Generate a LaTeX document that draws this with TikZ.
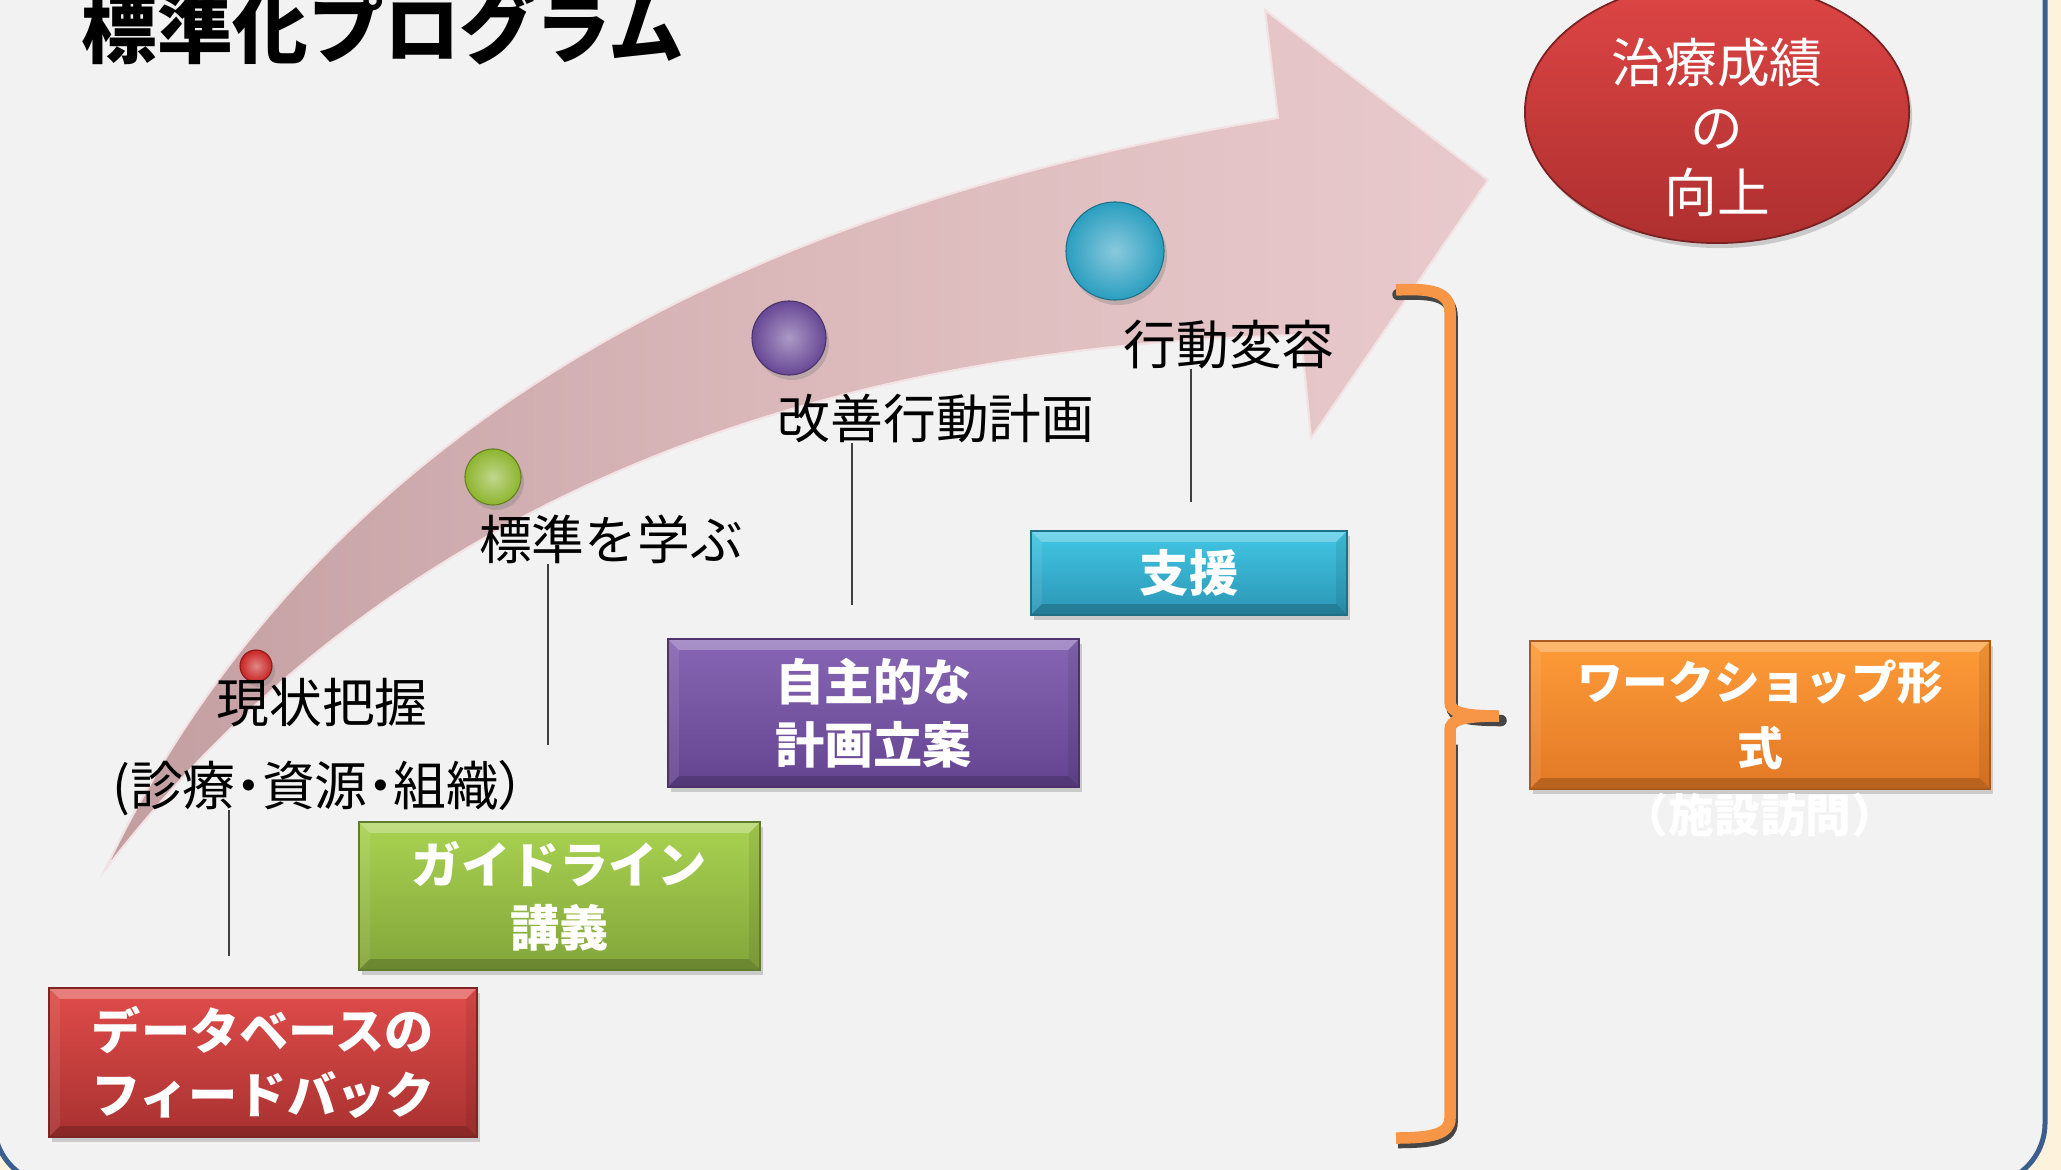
\documentclass[tikz,border=0pt]{standalone}
\usepackage{fontspec}
\setmainfont{Noto Sans CJK JP}
\newfontfamily\jpprop{Noto Sans CJK JP}[RawFeature=+palt]
\usetikzlibrary{shapes.geometric,shadows}

\definecolor{bgc}{HTML}{F2F2F2}
\definecolor{cream}{HTML}{FDF2DC}
\definecolor{framec}{HTML}{3A5F8F}
\definecolor{arrowD}{HTML}{C29EA1}
\definecolor{arrowM}{HTML}{DBB9BB}
\definecolor{arrowL}{HTML}{E9CACC}
\definecolor{redT}{HTML}{E04C4A}
\definecolor{redB}{HTML}{A83130}
\definecolor{grnT}{HTML}{A9D351}
\definecolor{grnB}{HTML}{83A53A}
\definecolor{purT}{HTML}{8767B5}
\definecolor{purB}{HTML}{644490}
\definecolor{cyaT}{HTML}{42C7E5}
\definecolor{cyaB}{HTML}{2B95B4}
\definecolor{ornT}{HTML}{FE9C38}
\definecolor{ornB}{HTML}{E27826}
\definecolor{goalT}{HTML}{DE4645}
\definecolor{goalB}{HTML}{AE2F2F}
\definecolor{bracec}{HTML}{F79646}
\definecolor{sphR}{HTML}{C92424}
\definecolor{sphG}{HTML}{8DB52E}
\definecolor{sphP}{HTML}{674795}
\definecolor{sphC}{HTML}{2A9EC0}

\newcommand\ttlfnt{\bfseries\fontsize{21.5}{26}\selectfont}
\newcommand\bxfnt{\bfseries\fontsize{14}{18}\selectfont}
\newcommand\bxfntO{\bfseries\fontsize{13}{18.7}\selectfont}
\newcommand\lbfnt{\fontsize{15}{18}\selectfont}
\newcommand\glfnt{\fontsize{15}{18.5}\selectfont}

\begin{document}
\begin{tikzpicture}[x=0.01cm,y=-0.01cm,
  bevel/.style={path picture={
    \fill[white,opacity=0.28] (path picture bounding box.north west) -- (path picture bounding box.north east)
      -- ([xshift=-0.11cm,yshift=-0.11cm]path picture bounding box.north east)
      -- ([xshift=0.11cm,yshift=-0.11cm]path picture bounding box.north west) -- cycle;
    \fill[black,opacity=0.18] (path picture bounding box.south west) -- (path picture bounding box.south east)
      -- ([xshift=-0.11cm,yshift=0.11cm]path picture bounding box.south east)
      -- ([xshift=0.11cm,yshift=0.11cm]path picture bounding box.south west) -- cycle;
    \fill[black,opacity=0.08] (path picture bounding box.north east) -- (path picture bounding box.south east)
      -- ([xshift=-0.11cm,yshift=0.11cm]path picture bounding box.south east)
      -- ([xshift=-0.11cm,yshift=-0.11cm]path picture bounding box.north east) -- cycle;
    \fill[white,opacity=0.08] (path picture bounding box.north west) -- (path picture bounding box.south west)
      -- ([xshift=0.11cm,yshift=0.11cm]path picture bounding box.south west)
      -- ([xshift=0.11cm,yshift=-0.11cm]path picture bounding box.north west) -- cycle;
  }},
  shadowed/.style={drop shadow={shadow xshift=0.03cm,shadow yshift=-0.05cm,opacity=0.35}},
  bx/.style={rectangle,inner sep=0pt,draw=#1B!75!black,line width=0.4pt,
    top color=#1T,bottom color=#1B,text=white,font=\bxfnt,align=center,
    shadowed,bevel},
  lb/.style={inner sep=0pt,font=\lbfnt,text=black,text height=12.6pt,text depth=1.2pt},
  stem/.style={draw=black!75,line width=0.45pt},
  sph/.style 2 args={circle,inner sep=0pt,minimum size=#1,draw=#2!70!black,line width=0.3pt,
    inner color=#2!55!white,outer color=#2,shadowed}
]
\useasboundingbox (0,0) rectangle (2061,1170);
% background and frame
\fill[cream] (0,0) rectangle (2061,1170);
\draw[framec,line width=0.05cm,fill=bgc,rounded corners=0.62cm] (-6,-100) rectangle (2045,1185);

% big curved arrow
\path[left color=arrowD,right color=arrowL,middle color=arrowM,draw=arrowL!55!white,line width=0.6pt]
  (105,870) .. controls (298,465) and (689,215) .. (1278,118)
  -- (1265,10) -- (1488,180) -- (1311,438) -- (1301,335)
  .. controls (767,348) and (368,527) .. (105,870) -- cycle;

% spheres
\node[sph={0.32cm}{sphR}] (b1) at (256,666) {};
\node[sph={0.56cm}{sphG}] (b2) at (493,477) {};
\node[sph={0.74cm}{sphP}] (b3) at (789,338) {};
\node[sph={0.98cm}{sphC}] (b4) at (1115,251) {};

% labels
\node[lb] (l0) at (322,702) {現状把握};
\node[lb,font=\lbfnt\jpprop] (l1) at (319,785) {(診療・資源・組織）};
\node[lb] (l2) at (611,539) {標準を学ぶ};
\node[lb] (l3) at (936,418) {改善行動計画};
\node[lb] (l4) at (1229,344) {行動変容};

% stems
\coordinate (e1) at (229,956);
\coordinate (e2) at (548,745);
\coordinate (e3) at (852,605);
\coordinate (e4) at (1191,502);
\draw[stem] (l1.south -| e1) -- (e1);
\draw[stem] (l2.south -| e2) -- (e2);
\draw[stem] (l3.south -| e3) -- (e3);
\draw[stem] (l4.south -| e4) -- (e4);

% boxes
\node[bx=red,minimum width=4.28cm,minimum height=1.49cm] (fb) at (263,1062.5) {データベースの\\フィードバック};
\node[bx=grn,minimum width=4.01cm,minimum height=1.48cm] (gl) at (559.5,896) {ガイドライン\\講義};
\node[bx=pur,minimum width=4.11cm,minimum height=1.48cm] (pl) at (873.5,713) {自主的な\\計画立案};
\node[bx=cya,minimum width=3.16cm,minimum height=0.84cm] (sp) at (1189,573) {支援};
\node[bx=orn,font=\bxfntO,minimum width=4.60cm,minimum height=1.48cm] (ws) at (1760,715) {ワークショップ形\\式};
\node[inner sep=0pt,font=\bxfntO,text=white] (wssub) at (1760,815) {（施設訪問）};

% brace
\draw[gray!55!black,line width=0.115cm,line cap=round,shift={(0.02cm,-0.045cm)}]
  (1396,290) .. controls (1432,288) and (1450,292) .. (1450,312) -- (1450,702)
  .. controls (1450,712) and (1462,716) .. (1499,716);
\draw[gray!55!black,line width=0.115cm,shift={(0.02cm,-0.045cm)}]
  (1450,740) -- (1450,1118) .. controls (1450,1134) and (1432,1138) .. (1396,1138);
\draw[bracec,line width=0.115cm]
  (1396,290) .. controls (1432,288) and (1450,292) .. (1450,312) -- (1450,702)
  .. controls (1450,712) and (1462,716) .. (1499,716)
  .. controls (1462,716) and (1450,720) .. (1450,730) -- (1450,1118)
  .. controls (1450,1134) and (1432,1138) .. (1396,1138);

% goal ellipse
\node[ellipse,inner sep=0pt,minimum width=3.84cm,minimum height=2.62cm,
  top color=goalT,bottom color=goalB,draw=goalB!70!black,line width=0.5pt,shadowed] (goal) at (1717,112) {};
\node[inner sep=0pt,font=\glfnt,text=white,align=center] (goaltxt) at (1717,127.5) {治療成績\\の\\向上};

% title
\node[inner sep=0pt,font=\ttlfnt,text height=18pt,text depth=1.7pt] (title) at (383,29) {標準化プログラム};
\end{tikzpicture}
\end{document}
